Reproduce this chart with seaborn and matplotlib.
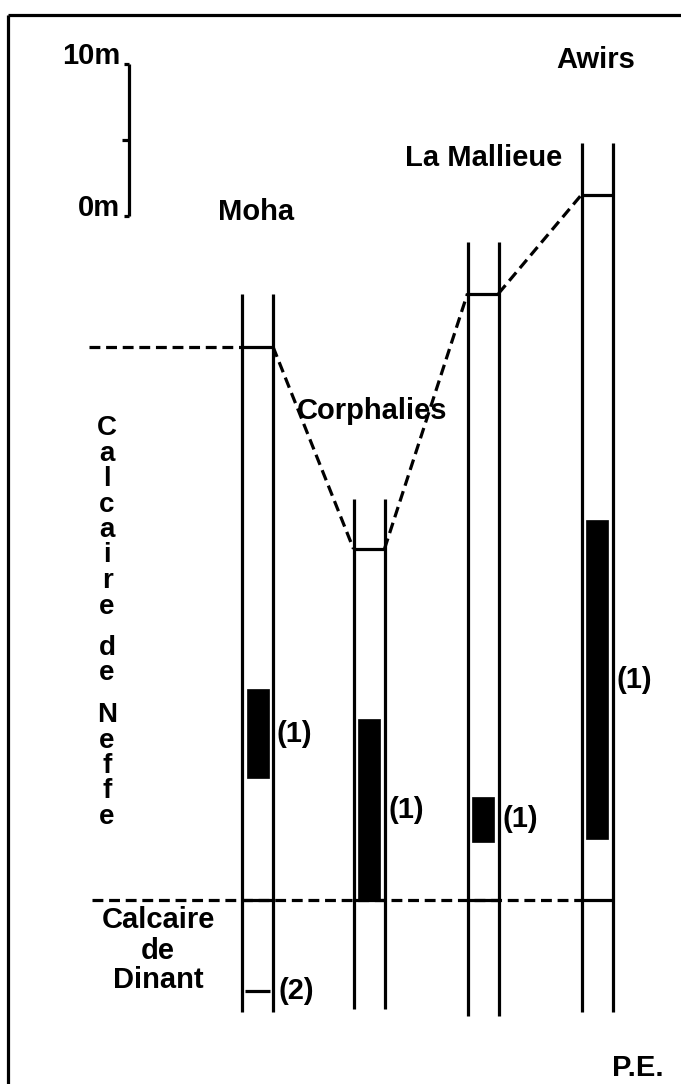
import matplotlib
matplotlib.use("Agg")
import matplotlib.pyplot as plt
import seaborn as sns
import pandas as pd

sns.set_theme(style="white")
plt.rcParams['font.family'] = ['Liberation Sans', 'DejaVu Sans']
plt.rcParams['text.color'] = 'black'

# ---------------- data (metres, base of Calcaire de Neffe = 0) ----------------
sections = ["Moha", "Corphalies", "La Mallieue", "Awirs"]
neffe_top_m = [36.4, 23.1, 39.9, 46.4]       # top of Calcaire de Neffe
column_top_m = [39.9, 26.4, 43.3, 49.8]      # top of drawn log
column_base_m = [-7.4, -7.2, -7.6, -7.4]     # bottom of drawn log
bar_top_m = [13.9, 11.9, 6.8, 25.0]          # interval (1) top
bar_base_m = [8.0, 0.0, 3.8, 4.0]            # interval (1) base
bar_labels = ["(1)", "(1)", "(1)", "(1)"]
level2_m = -6.0                              # level (2) at Moha
dinant_top_m = 0.0
scale_ticks_m = [0, 5, 10]
scale_labels = ["0m", "", "10m"]

# ---------------- layout ----------------
W, H = 681, 1084
PX_PER_M = 15.2
Y0_PX = 900.0
def m(px):          # pixel row -> metres
    return (Y0_PX - px) / PX_PER_M

col_x = [257.5, 369.0, 483.0, 597.0]
half_w = 15.5
bar_w = 22
scale_base = 45.0
scale_x = 129

df = pd.DataFrame({"section": sections, "x": col_x, "top": neffe_top_m,
                   "ctop": column_top_m, "cbase": column_base_m,
                   "btop": bar_top_m, "bbase": bar_base_m, "lab": bar_labels})

fig = plt.figure(figsize=(W / 100, H / 100), dpi=100)
ax = fig.add_axes([0, 0, 1, 1])
ax.set_xlim(0, W)
ax.set_ylim(m(H), m(0))
ax.axis("off")

LW = 2.3
DASH = (0, (3.4, 1.8))
k = "black"

# frame (top and left border)
ax.plot([8, W], [m(15), m(15)], color=k, lw=LW, solid_capstyle="butt")
ax.plot([8, 8], [m(15), m(H)], color=k, lw=LW, solid_capstyle="butt")

# columns
for _, r in df.iterrows():
    xl, xr = r.x - half_w, r.x + half_w
    ax.vlines([xl, xr], r.cbase, r.ctop, color=k, lw=LW)
    ax.hlines([r.top, dinant_top_m], xl, xr, color=k, lw=LW)
    ax.bar(r.x, r.btop - r.bbase, bottom=r.bbase, width=bar_w, color=k, edgecolor=k, lw=0.5)
    ax.text(r.x + half_w + 4, (r.btop + r.bbase) / 2, r.lab, ha="left", va="center",
            fontsize=21, family=['Liberation Sans Narrow', 'Liberation Sans'], fontweight="bold")

# level (2) at Moha
ax.hlines(level2_m, col_x[0] - half_w + 3, col_x[0] + half_w - 3, color=k, lw=LW)
ax.text(col_x[0] + half_w + 5, level2_m, "(2)", ha="left", va="center",
        fontsize=21, family=['Liberation Sans Narrow', 'Liberation Sans'], fontweight="bold")

# correlation of top of Neffe
ax.plot([89, col_x[0] - half_w], [neffe_top_m[0]] * 2, color=k, lw=LW, linestyle=DASH)
for i in range(3):
    ax.plot([col_x[i] + half_w, col_x[i + 1] - half_w], [neffe_top_m[i], neffe_top_m[i + 1]],
            color=k, lw=LW, linestyle=DASH)
# base of Neffe
ax.plot([92, col_x[3] - half_w], [dinant_top_m] * 2, color=k, lw=LW, linestyle=DASH)

# scale bar
sb = [scale_base + t for t in scale_ticks_m]
ax.vlines(scale_x, sb[0], sb[-1], color=k, lw=LW)
for v, lab, tl in zip(sb, scale_labels, [5, 7, 5]):
    ax.hlines(v, scale_x - tl, scale_x, color=k, lw=LW)
    if lab:
        ax.text(120, v, lab, ha="right", va="baseline", fontsize=21, fontweight="bold")

# section names
fs = 21
ax.text(256, m(220), "Moha", ha="center", va="baseline", fontsize=fs, fontweight="bold")
ax.text(484, m(166), "La Mallieue", ha="center", va="baseline", fontsize=fs, fontweight="bold")
ax.text(596, m(68), "Awirs", ha="center", va="baseline", fontsize=fs, fontweight="bold")
ax.text(372, m(419), "Corphalies", ha="center", va="baseline", fontsize=fs, fontweight="bold")

# vertical formation label
words = ["Calcaire", "de", "Neffe"]
word_start = [435, 655, 722]
step = 25.5
for w, y0 in zip(words, word_start):
    for j, ch in enumerate(w):
        ax.text(107, m(y0 + j * step), ch, ha="center", va="baseline", fontsize=20, fontweight="bold")

# Calcaire de Dinant
for txt, yb in zip(["Calcaire", "de", "Dinant"], [928, 959, 988]):
    ax.text(158, m(yb), txt, ha="center", va="baseline", fontsize=fs, fontweight="bold")

ax.text(664, m(1076), "P.E.", ha="right", va="baseline", fontsize=fs, fontweight="bold")

fig.savefig("out.png", dpi=100, facecolor="white")
